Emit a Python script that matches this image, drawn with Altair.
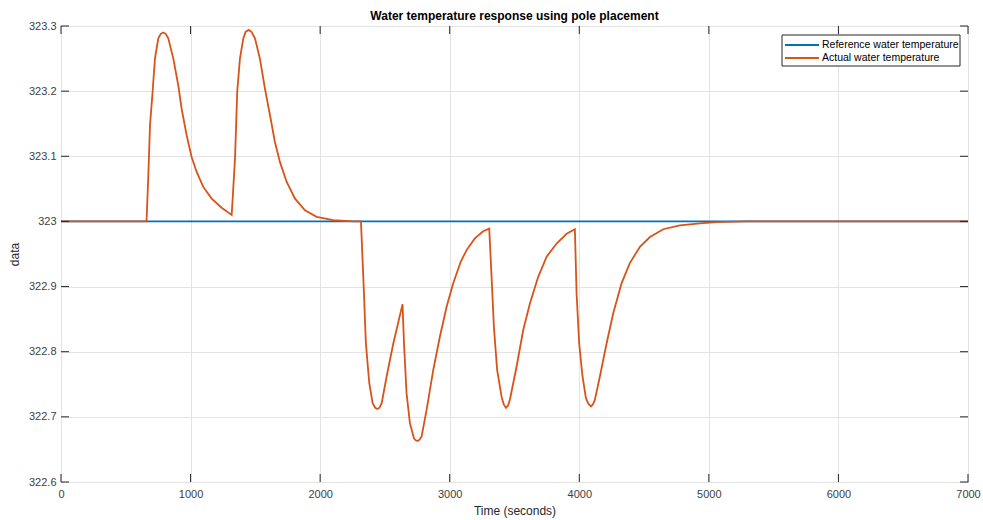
import altair as alt
import pandas as pd

series_names = ["Reference water temperature", "Actual water temperature"]
series_colors = ["#0072BD", "#D95319"]

ref_t = [0, 7000]
ref_v = [323.0, 323.0]

act_t = [0, 660, 674, 687, 707, 725, 751, 770, 789, 808, 828, 867, 905, 931, 970,
         1008, 1047, 1098, 1163, 1240, 1317, 1325, 1343, 1360, 1381, 1407, 1425,
         1448, 1470, 1497, 1535, 1574, 1613, 1651, 1690, 1741, 1806, 1883, 1973,
         2101, 2255, 2315, 2333, 2353, 2379, 2405, 2425, 2441, 2458, 2475, 2513,
         2565, 2636, 2647, 2667, 2693, 2724, 2738, 2752, 2767, 2783, 2822, 2873,
         2924, 2976, 3027, 3085, 3130, 3194, 3258, 3305, 3323, 3341, 3366, 3400,
         3417, 3434, 3449, 3464, 3516, 3567, 3619, 3683, 3748, 3825, 3902, 3966,
         3979, 3999, 4025, 4051, 4070, 4090, 4105, 4120, 4159, 4211, 4262, 4326,
         4390, 4468, 4545, 4648, 4776, 4931, 5059, 5300, 7000]
act_v = [323.0, 323.0, 323.071, 323.148, 323.199, 323.25, 323.281, 323.288,
         323.290, 323.288, 323.281, 323.25, 323.209, 323.173, 323.132, 323.099,
         323.076, 323.053, 323.035, 323.021, 323.010, 323.035, 323.097, 323.199,
         323.25, 323.281, 323.291, 323.294, 323.291, 323.281, 323.25, 323.204,
         323.163, 323.122, 323.091, 323.061, 323.035, 323.017, 323.007, 323.002,
         323.0, 323.0, 322.915, 322.813, 322.752, 322.721, 322.714, 322.712,
         322.714, 322.721, 322.762, 322.813, 322.873, 322.813, 322.736, 322.690,
         322.667, 322.664, 322.663, 322.665, 322.670, 322.711, 322.772, 322.823,
         322.869, 322.905, 322.938, 322.956, 322.974, 322.985, 322.989, 322.915,
         322.838, 322.772, 322.731, 322.719, 322.714, 322.717, 322.726, 322.777,
         322.833, 322.874, 322.915, 322.946, 322.966, 322.981, 322.988, 322.890,
         322.813, 322.762, 322.729, 322.720, 322.716, 322.719, 322.726, 322.762,
         322.813, 322.859, 322.905, 322.936, 322.961, 322.976, 322.988, 322.994,
         322.997, 322.999, 323.0, 323.0]

x_ticks = [0, 1000, 2000, 3000, 4000, 5000, 6000, 7000]
y_ticks = [322.6, 322.7, 322.8, 322.9, 323.0, 323.1, 323.2, 323.3]

W, H = 907, 456
FONT = "Liberation Sans"
AX = "#262626"

df = pd.concat([
    pd.DataFrame({"t": ref_t, "v": ref_v, "series": series_names[0], "o": 0}),
    pd.DataFrame({"t": act_t, "v": act_v, "series": series_names[1], "o": 1}),
])

xscale = alt.Scale(domain=[0, 7000], nice=False, zero=False)
yscale = alt.Scale(domain=[322.6, 323.3], nice=False, zero=False)
xaxis = alt.Axis(values=x_ticks, format="d", grid=True, ticks=False,
                 domain=False, labelPadding=6, titlePadding=6, labelFlush=False)
yaxis = alt.Axis(values=y_ticks, format=".4~g", grid=True, ticks=False,
                 domain=False, labelPadding=5, titlePadding=7, labelFlush=False)

def X(field):
    return alt.X(field, scale=xscale, title="Time (seconds)", axis=xaxis)

def Y(field):
    return alt.Y(field, scale=yscale, title="data", axis=yaxis)

lines = alt.Chart(df).mark_line(strokeWidth=1.8, clip=True).encode(
    x=X("t:Q"),
    y=Y("v:Q"),
    color=alt.Color("series:N",
                    scale=alt.Scale(domain=series_names, range=series_colors),
                    legend=None),
    order="o:Q",
    detail="series:N",
)

xt = pd.DataFrame({"t": x_ticks})
yt = pd.DataFrame({"v": y_ticks})
tick_style = dict(color=AX, strokeWidth=1)
bottom_ticks = alt.Chart(xt).mark_rule(**tick_style).encode(
    x=X("t:Q"), y=alt.value(H), y2=alt.value(H - 8))
top_ticks = alt.Chart(xt).mark_rule(**tick_style).encode(
    x=X("t:Q"), y=alt.value(0), y2=alt.value(8))
left_ticks = alt.Chart(yt).mark_rule(**tick_style).encode(
    y=Y("v:Q"), x=alt.value(0), x2=alt.value(8))
right_ticks = alt.Chart(yt).mark_rule(**tick_style).encode(
    y=Y("v:Q"), x=alt.value(W), x2=alt.value(W - 8))

# legend drawn inside the plot box
leg_df = pd.DataFrame({"label": series_names, "color": series_colors})
LX0, LX1, LY0, LY1 = 721, 899, 9, 40
row_y = [19, 32]
leg_box = alt.Chart(leg_df.head(1)).mark_rect(
    fill="white", stroke=AX, strokeWidth=1).encode(
    x=alt.value(LX0), x2=alt.value(LX1), y=alt.value(LY0), y2=alt.value(LY1))
leg_layers = [leg_box]
for i, name in enumerate(series_names):
    one = leg_df[leg_df["label"] == name]
    leg_layers.append(alt.Chart(one).mark_rule(
        color=series_colors[i], strokeWidth=1.8).encode(
        x=alt.value(LX0 + 3), x2=alt.value(LX0 + 37), y=alt.value(row_y[i])))
    leg_layers.append(alt.Chart(one).mark_text(
        align="left", baseline="middle", font=FONT, fontSize=10.5,
        color="#000000").encode(
        x=alt.value(LX0 + 40), y=alt.value(row_y[i]), text="label:N"))

chart = alt.layer(lines, bottom_ticks, top_ticks, left_ticks, right_ticks,
                  *leg_layers).properties(
    width=W, height=H,
    title=alt.Title("Water temperature response using pole placement",
                    font=FONT, fontSize=12, fontWeight="bold", color="#000000",
                    offset=-3),
    autosize=alt.AutoSizeParams(type="none"),
    padding={"left": 61, "top": 26, "right": 15, "bottom": 38},
    background="white",
).configure_view(
    stroke=AX, strokeWidth=1,
).configure_axis(
    labelFont=FONT, labelFontSize=11, labelColor="#404040",
    titleFont=FONT, titleFontSize=12, titleFontWeight="normal", titleColor="#262626",
    gridColor="#e3e3e3", gridWidth=1,
)

chart.save("out.html", embed_options={"renderer": "svg", "actions": False})
